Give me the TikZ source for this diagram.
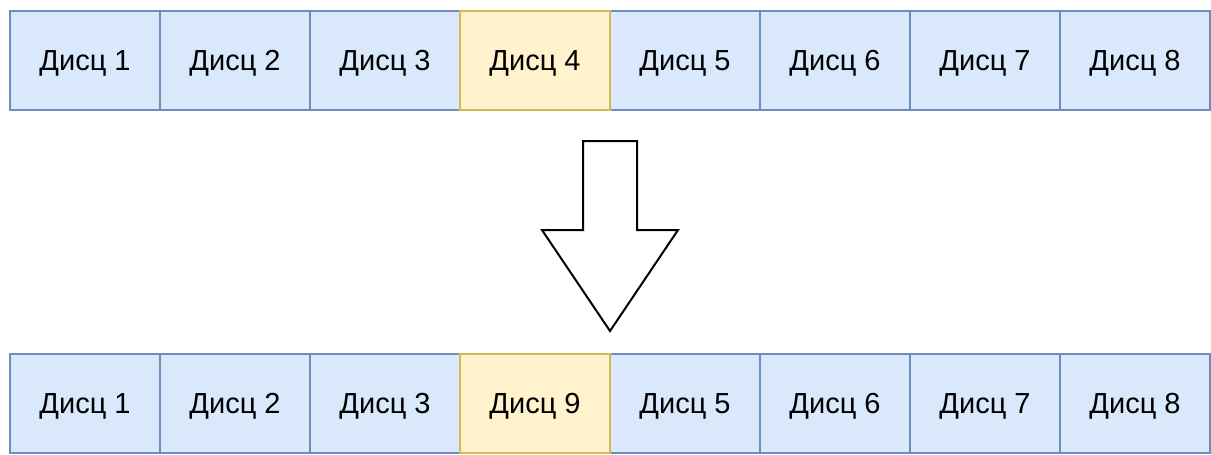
\documentclass[tikz,border=0pt]{standalone}
\usepackage{fontspec}
\setmainfont{Liberation Sans}
\definecolor{bluefill}{HTML}{DAE8FC}
\definecolor{bluestroke}{HTML}{6C8EBF}
\definecolor{yellowfill}{HTML}{FFF2CC}
\definecolor{yellowstroke}{HTML}{D6B656}
\begin{document}
\begin{tikzpicture}[x=1pt,y=-1pt,
  disk/.style={draw=bluestroke,fill=bluefill,line width=2pt,minimum width=150pt,minimum height=99pt,
    inner sep=0pt,anchor=north west,text depth=0pt,font=\fontsize{29}{34}\selectfont},
  diskhl/.style={disk,draw=yellowstroke,fill=yellowfill},
  bigarrow/.style={draw=black,fill=white,line width=2pt,line join=miter}]
\useasboundingbox (0,0) rectangle (1211,455);
% upper row
\foreach \i/\lab in {1/1,2/2,3/3,5/5,6/6,7/7,8/8}{
  \node[disk] (t\i) at ({9+150*(\i-1)},10) {Дисц \lab};
}
\node[diskhl] (t4) at (459,10) {Дисц 4};
% lower row
\foreach \i/\lab in {1/1,2/2,3/3,5/5,6/6,7/7,8/8}{
  \node[disk] (b\i) at ({9+150*(\i-1)},353) {Дисц \lab};
}
\node[diskhl] (b4) at (459,353) {Дисц 9};
% block arrow between the rows
\coordinate (tip) at (610,331);
\draw[bigarrow] (583,141) -- (637,141) -- (637,230) -- (678,230) -- (tip)
  -- (542,230) -- (583,230) -- cycle;
\end{tikzpicture}
\end{document}
